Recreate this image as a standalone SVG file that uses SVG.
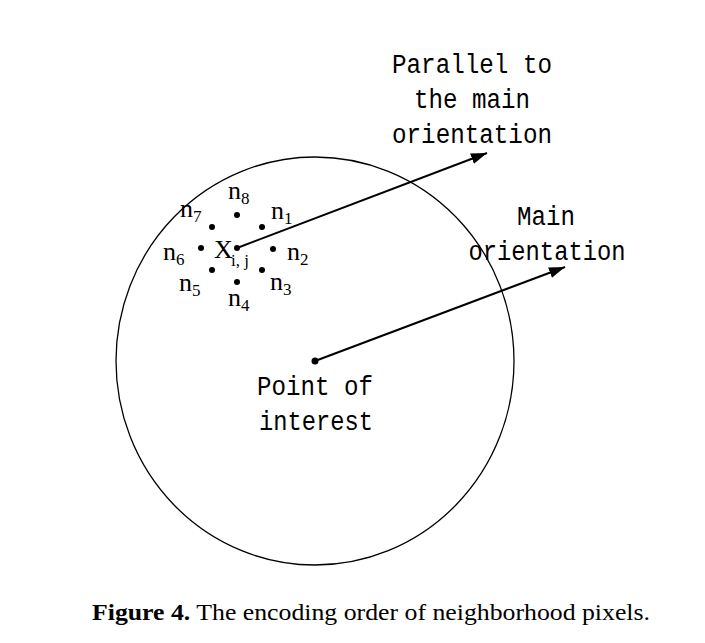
<svg xmlns="http://www.w3.org/2000/svg" width="705" height="643" viewBox="0 0 705 643">
<style>
.mono{font-family:"Liberation Mono","DejaVu Sans Mono",monospace;font-size:27px;fill:#000;text-anchor:middle}
.nl{font-family:"Liberation Serif","DejaVu Serif",serif;font-size:26px;fill:#000}
.sub{font-size:17px}
.cap{font-family:"Liberation Serif","DejaVu Serif",serif;font-size:23px;fill:#000}
.dot{fill:#000}
.conn{stroke:#000;stroke-width:2;fill:none}
</style>
<defs>
<marker id="ah" markerUnits="userSpaceOnUse" markerWidth="18" markerHeight="12" refX="16" refY="5.5" orient="auto">
<path d="M0,0 L16,5.5 L0,11 z" fill="#000"/>
</marker>
</defs>
<rect width="705" height="643" fill="#fff"/>
<g id="region">
<ellipse cx="315" cy="361" rx="199" ry="204" fill="none" stroke="#000" stroke-width="1.3"/>
</g>
<g id="connectors">
<line class="conn" x1="237" y1="248" x2="487" y2="153" marker-end="url(#ah)"/>
<line class="conn" x1="315" y1="361" x2="565" y2="267" marker-end="url(#ah)"/>
</g>
<g id="point-of-interest">
<circle class="dot" cx="315" cy="361" r="3.5"/>
<text class="mono" x="315" y="395" textLength="116" lengthAdjust="spacingAndGlyphs">Point of</text>
<text class="mono" x="316" y="430" textLength="114" lengthAdjust="spacingAndGlyphs">interest</text>
</g>
<g id="neighborhood">
<circle class="dot" cx="237" cy="248" r="3"/>
<circle class="dot" cx="237" cy="215" r="3"/>
<circle class="dot" cx="262" cy="227" r="3"/>
<circle class="dot" cx="273" cy="249" r="3"/>
<circle class="dot" cx="262" cy="270" r="3"/>
<circle class="dot" cx="237" cy="282" r="3"/>
<circle class="dot" cx="212" cy="270" r="3"/>
<circle class="dot" cx="201" cy="248" r="3"/>
<circle class="dot" cx="212" cy="227" r="3"/>
<text class="nl" x="214" y="258">X<tspan class="sub" x="231" y="266" font-size="18">i, j</tspan></text>
<text class="nl" x="228" y="199">n<tspan class="sub" x="241" y="204">8</tspan></text>
<text class="nl" x="271" y="219">n<tspan class="sub" x="284" y="224">1</tspan></text>
<text class="nl" x="287" y="260">n<tspan class="sub" x="300" y="265">2</tspan></text>
<text class="nl" x="270" y="290">n<tspan class="sub" x="283" y="295">3</tspan></text>
<text class="nl" x="228" y="306">n<tspan class="sub" x="241" y="311">4</tspan></text>
<text class="nl" x="179" y="291">n<tspan class="sub" x="192" y="296">5</tspan></text>
<text class="nl" x="163" y="260">n<tspan class="sub" x="176" y="265">6</tspan></text>
<text class="nl" x="180" y="217">n<tspan class="sub" x="193" y="222">7</tspan></text>
</g>
<g id="label-parallel">
<text class="mono" x="472" y="73" textLength="160" lengthAdjust="spacingAndGlyphs">Parallel to</text>
<text class="mono" x="472" y="108" textLength="116" lengthAdjust="spacingAndGlyphs">the main</text>
<text class="mono" x="472" y="143" textLength="160" lengthAdjust="spacingAndGlyphs">orientation</text>
</g>
<g id="label-main">
<text class="mono" x="546" y="225" textLength="58" lengthAdjust="spacingAndGlyphs">Main</text>
<text class="mono" x="547" y="260" textLength="157" lengthAdjust="spacingAndGlyphs">orientation</text>
</g>
<g id="caption">
<text class="cap" x="92" y="620" textLength="558" lengthAdjust="spacingAndGlyphs"><tspan font-weight="bold">Figure 4.</tspan> The encoding order of neighborhood pixels.</text>
</g>
</svg>
